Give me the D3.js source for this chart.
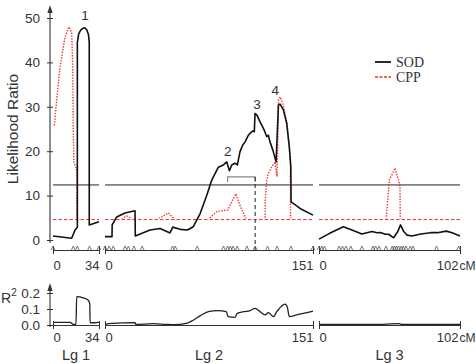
<!DOCTYPE html>
<html>
<head>
<meta charset="utf-8">
<script src="https://cdn.jsdelivr.net/npm/d3@7"></script>
<style>
  body { margin: 0; background: #fff; }
  svg { display: block; font-family: Arial, "Liberation Sans", sans-serif; }
</style>
</head>
<body>
<script>
// linkage groups
const lgNames = ["Lg 1", "Lg 2", "Lg 3"];
const lgLengths = [34, 151, 102];
const lrTicks = [0, 10, 20, 30, 40, 50];
const r2Ticks = [0, 0.1, 0.2];

// thresholds
const sodThreshold = 12.4;
const cppThreshold = 4.6;

// marker positions (cM)
const markersLg1 = [0, 15, 18, 27, 34];
const markersLg2 = [0, 3, 6, 14.5, 17, 21, 27, 49, 51, 67, 86, 89, 91, 93, 96, 103, 109, 118, 125, 135, 151];
const markersLg3 = [0, 2, 4, 14.5, 17, 19.5, 23, 31, 39, 41, 43.5, 48.5, 53, 54.5, 56, 57.5, 59.5, 61, 63, 66, 68, 85, 101];

// SOD likelihood ratio [cM, LR]
const sodLg1 = [[0,0.9],[13.8,0.4],[16.3,2.25],[18,2.85],[18,44.5],[19,46.4],[20.5,47.3],[22.4,47.7],[23.6,47.8],[25,47.3],[26.2,46.3],[26.8,44.5],[26.8,3.4],[34,4.1]];
const sodLg2 = [[0,0.75],[5.1,0.75],[5.2,3.4],[8.5,5.2],[14.5,6.1],[21.8,6.6],[22,0.9],[32.7,2.25],[40,2.6],[47.2,1.6],[49.2,2.9],[54.5,2.4],[59.8,2.25],[64.1,3.0],[69,5.9],[73.9,10.1],[77.5,13.5],[82.3,16.4],[85.9,16.9],[88.4,17.6],[90.3,15.6],[92,16.9],[94.4,17.3],[96.1,16.9],[98,19.9],[100,21.4],[101.7,22.1],[104.1,23.6],[105.8,24.2],[107.7,24.6],[108.4,24.4],[108.9,28.5],[110.2,28.2],[112.6,26.6],[115.5,24.8],[117.4,23.3],[118.6,23.6],[119.8,22.1],[121.8,20.3],[124.2,17.6],[125.9,30.4],[127.1,30.6],[129.5,29.3],[131.9,26.3],[133.8,21],[134.9,16.5],[135.1,8.6],[141.6,7.1],[151,5.6]];
const sodLg3 = [[0,0.2],[7.7,1.5],[17.6,3.0],[23.8,2.25],[31,1.35],[34.7,1.65],[38.3,1.9],[42,1.65],[44.4,1.7],[48,1.3],[50.4,1.3],[54,0.5],[57,1.9],[59,3.4],[61.3,1.9],[63.7,1.1],[67.3,0.9],[73.5,1.35],[80.8,1.65],[85.6,1.65],[92.1,2.0],[96.3,1.65],[102,0.9]];

// CPP likelihood ratio [cM, LR]
const cppLg1 = [[1,25.8],[2.7,31.5],[5.2,39],[8.9,45.7],[11.8,48],[13.8,46.8],[14.6,39],[15,24],[15.5,17.3],[17,16.4],[17.7,15],[17.7,4.6],[34,4.6]];
const cppLg2 = [[0,4.6],[11.4,4.6],[15.7,5.4],[20.3,4.6],[38,4.6],[46,6.1],[50.8,4.6],[74.8,4.6],[81.1,6.4],[89.1,6.75],[92.7,9.0],[95.1,10.4],[97.4,8.2],[101.7,5.2],[103,4.6],[116.2,4.6],[116.3,9],[117.4,13.5],[118.6,15],[121.1,16.5],[123.5,17.6],[124.9,14.3],[126,31.6],[127.3,32.2],[129.3,30.5],[132.1,26.3],[134,20],[134.6,17],[134.7,4.6],[151,4.6]];
const cppLg3 = [[0,4.6],[48.5,4.6],[49.4,7.6],[50.9,13.6],[53.3,15],[55,16.2],[56.7,14.3],[57.9,13.1],[58.6,11.7],[58.8,4.6],[102,4.6]];

// R squared [cM, R2]
const r2Lg1 = [[0,0.017],[12.6,0.017],[15,0.004],[17,0.004],[17.5,0.177],[22.4,0.17],[26.1,0.155],[27.2,0.13],[27.4,0.014],[31,0.014],[34,0.018]];
const r2Lg2 = [[0,0.004],[5,0.01],[21.8,0.015],[22.3,0.004],[35,0.008],[44,0.004],[50,0.002],[59,0.01],[64,0.03],[69.5,0.06],[75.7,0.085],[81.8,0.09],[88,0.083],[89.5,0.052],[94.4,0.048],[96,0.073],[100.4,0.083],[105.3,0.09],[108.9,0.104],[112.6,0.083],[116.2,0.063],[118.6,0.077],[122.3,0.052],[124.7,0.083],[128.3,0.119],[130.7,0.13],[132.4,0.11],[133.8,0.052],[139.2,0.063],[146.5,0.077],[151,0.087]];
const r2Lg3 = [[0,0.004],[20,0.004],[40,0.003],[58,0.008],[60,0.004],[80,0.003],[102,0.004]];

// peak labels [text, lg index, cM, LR]
const peakLabels = [["1",0,23.6,49.5],["2",1,89.2,18.9],["3",1,110.3,29.4],["4",1,123.6,32.6]];
// support interval and peak marker on Lg 2
const ciLg2 = [89, 109];
const ciLevel = 14.2;

const sodLines = [sodLg1, sodLg2, sodLg3];
const cppLines = [cppLg1, cppLg2, cppLg3];
const r2Lines = [r2Lg1, r2Lg2, r2Lg3];
const markerSets = [markersLg1, markersLg2, markersLg3];

const width = 476, height = 364;
const textCol = "#333", red = "#e8352b";
const lgRanges = [[53, 99], [105, 313], [319, 460]];

const svg = d3.select("body").append("svg")
    .attr("width", width)
    .attr("height", height);

const xs = lgLengths.map((len, i) => d3.scaleLinear().domain([0, len]).range(lgRanges[i]));
const yLR = d3.scaleLinear().domain([0, 50]).range([240, 18]);
const yR2 = d3.scaleLinear().domain([0, 0.2]).range([325, 293]);

// y axis helper with crossing ticks and an arrow
function yAxis(scale, ticks, fmt, top, bottom) {
  const g = svg.append("g")
      .attr("transform", "translate(50,0)")
      .call(d3.axisLeft(scale).tickValues(ticks).tickFormat(fmt).tickSize(3).tickPadding(7));
  g.select(".domain").remove();
  g.selectAll(".tick line").attr("x1", -3).attr("x2", 3).attr("stroke", textCol);
  g.selectAll(".tick text").attr("font-size", 13.5).attr("fill", textCol)
      .attr("font-family", "Arial, 'Liberation Sans', sans-serif");
  g.append("line").attr("y1", bottom).attr("y2", top + 6).attr("stroke", textCol).attr("stroke-width", 1.1);
  g.append("path").attr("d", `M0,${top} L-2.6,${top + 8} L2.6,${top + 8} Z`).attr("fill", textCol);
}
yAxis(yLR, lrTicks, d3.format("d"), 5, 243);
yAxis(yR2, r2Ticks, d3.format(".1f"), 283, 327);

// y labels
svg.append("text")
    .attr("transform", "translate(18,129) rotate(-90)")
    .attr("text-anchor", "middle")
    .attr("font-size", 15.5)
    .attr("fill", textCol)
    .text("Likelihood Ratio");
const r2lab = svg.append("text").attr("x", 1).attr("y", 303).attr("font-size", 14).attr("fill", textCol);
r2lab.append("tspan").text("R");
r2lab.append("tspan").attr("font-size", 10).attr("dy", -7).text("2");

// clip so CPP only shows above its threshold
svg.append("clipPath").attr("id", "cppClip")
  .append("rect").attr("x", 0).attr("y", 0).attr("width", width).attr("height", yLR(cppThreshold) - 1);

// x labels under a group axis: start left-aligned, end right-aligned
function styleEnds(g, last) {
  g.select(".domain").attr("stroke", textCol);
  g.selectAll(".tick line").attr("y1", -4).attr("y2", 4).attr("stroke", textCol);
  g.selectAll(".tick text")
      .attr("dy", null)
      .attr("dx", (d, j) => (j === 1 && last) ? -2 : null)
      .attr("font-size", 13).attr("fill", textCol)
      .attr("font-family", "Arial, 'Liberation Sans', sans-serif")
      .attr("text-anchor", (d, j) => j === 0 ? "start" : "end");
}

lgLengths.forEach((len, i) => {
  const x = xs[i];
  const last = i === lgLengths.length - 1;

  // thresholds
  svg.append("line")
      .attr("x1", x(0)).attr("x2", x(len))
      .attr("y1", yLR(sodThreshold)).attr("y2", yLR(sodThreshold))
      .attr("stroke", "#222").attr("stroke-width", 1);
  svg.append("line")
      .attr("x1", x(0)).attr("x2", x(len))
      .attr("y1", yLR(cppThreshold)).attr("y2", yLR(cppThreshold))
      .attr("stroke", red).attr("stroke-width", 1).attr("stroke-dasharray", "3.5,2");

  // CPP curve
  svg.append("path")
      .datum(cppLines[i])
      .attr("clip-path", "url(#cppClip)")
      .attr("fill", "none")
      .attr("stroke", red)
      .attr("stroke-width", 1.4)
      .attr("stroke-dasharray", "1.4,1.4")
      .attr("d", d3.line().x(d => x(d[0])).y(d => yLR(d[1])));

  // SOD curve
  svg.append("path")
      .datum(sodLines[i])
      .attr("fill", "none")
      .attr("stroke", "#111")
      .attr("stroke-width", 1.6)
      .attr("stroke-linejoin", "round")
      .attr("d", d3.line().x(d => x(d[0])).y(d => yLR(d[1])));

  // marker axis
  const gm = svg.append("g")
      .attr("transform", "translate(0,250)")
      .call(d3.axisBottom(x).tickValues([0, len]).tickSizeInner(4).tickSizeOuter(0));
  styleEnds(gm, last);
  gm.selectAll(".tick text").attr("y", 20);
  gm.selectAll(".mk")
      .data(markerSets[i])
      .join("path")
      .attr("class", "mk")
      .attr("fill", "none")
      .attr("stroke", "#555")
      .attr("stroke-width", 0.8)
      .attr("d", d => `M${x(d) - 1.8},0 L${x(d)},-4 L${x(d) + 1.8},0`);

  // R2 curve
  svg.append("path")
      .datum(r2Lines[i])
      .attr("fill", "none")
      .attr("stroke", "#222")
      .attr("stroke-width", 1.3)
      .attr("d", d3.line().curve(d3.curveMonotoneX).x(d => x(d[0])).y(d => yR2(d[1])));

  // R2 axis
  const gr = svg.append("g")
      .attr("transform", `translate(0,${yR2(0)})`)
      .call(d3.axisBottom(x).tickValues([0, len]).tickSizeInner(4).tickSizeOuter(0));
  styleEnds(gr, last);
  gr.selectAll(".tick text").attr("y", 17);

  // group name
  svg.append("text")
      .attr("x", (x(0) + x(len)) / 2)
      .attr("y", 360)
      .attr("text-anchor", "middle")
      .attr("font-size", 14.5)
      .attr("fill", textCol)
      .text(lgNames[i]);
});

// unit label after the last group
[270, 342].forEach(yy => {
  svg.append("text")
      .attr("x", width - 0.5)
      .attr("y", yy)
      .attr("text-anchor", "end")
      .attr("font-size", 12)
      .attr("fill", textCol)
      .text("cM");
});

// support interval bracket and peak line on Lg 2
const x2 = xs[1];
svg.append("path")
    .attr("fill", "none")
    .attr("stroke", "#888")
    .attr("stroke-width", 1.2)
    .attr("d", `M${x2(ciLg2[0])},${yLR(ciLevel) + 5} V${yLR(ciLevel)} H${x2(ciLg2[1])} V${yLR(ciLevel) + 5}`);
svg.append("line")
    .attr("x1", x2(ciLg2[1])).attr("x2", x2(ciLg2[1]))
    .attr("y1", yLR(ciLevel)).attr("y2", 250)
    .attr("stroke", "#333").attr("stroke-width", 1.1).attr("stroke-dasharray", "4,3");

// peak numbers
svg.selectAll(".peak")
    .data(peakLabels)
    .join("text")
    .attr("class", "peak")
    .attr("x", d => xs[d[1]](d[2]))
    .attr("y", d => yLR(d[3]))
    .attr("text-anchor", "middle")
    .attr("font-size", 13.5)
    .attr("fill", textCol)
    .text(d => d[0]);

// legend
const legend = svg.append("g").attr("font-family", "'Liberation Serif', 'Times New Roman', serif");
const legendItems = [["SOD", "#111", null, 1.8], ["CPP", red, "3,1.5", 1.3]];
legendItems.forEach((it, k) => {
  const yy = 62 + k * 15;
  legend.append("line")
      .attr("x1", 375).attr("x2", 391).attr("y1", yy).attr("y2", yy)
      .attr("stroke", it[1]).attr("stroke-width", it[3])
      .attr("stroke-dasharray", it[2]);
  legend.append("text")
      .attr("x", 396).attr("y", yy + 4.5)
      .attr("font-size", 14)
      .attr("fill", textCol)
      .text(it[0]);
});
</script>
</body>
</html>
